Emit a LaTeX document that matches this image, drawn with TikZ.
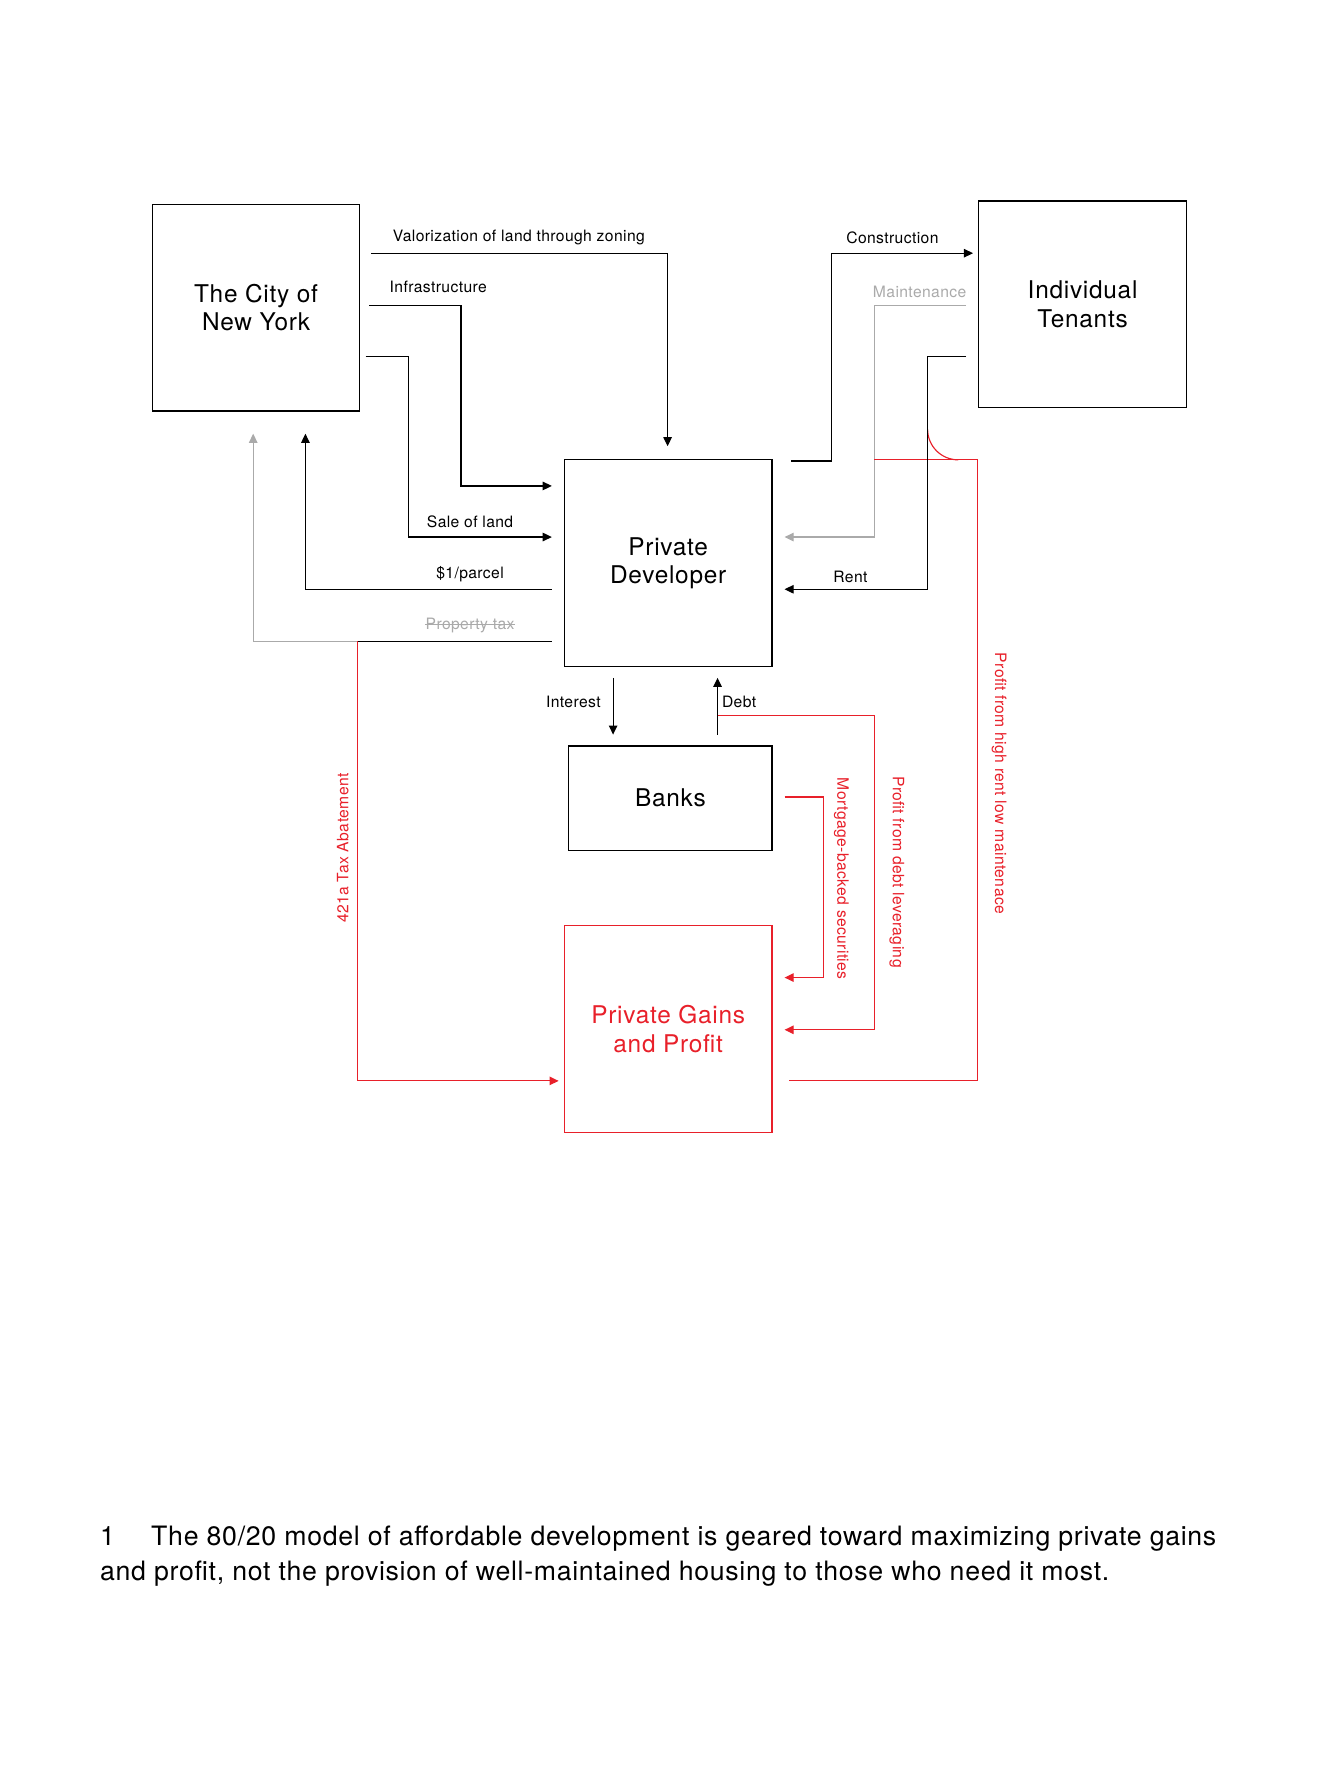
\documentclass[tikz,border=0pt]{standalone}
\usepackage{fontspec}
\setmainfont{TeX Gyre Heros}
\newfontfamily\boxfont[LetterSpace=3]{TeX Gyre Heros}
\newfontfamily\lblfont[LetterSpace=2.5]{TeX Gyre Heros}
\newfontfamily\capfont[LetterSpace=2.6]{TeX Gyre Heros}
\usetikzlibrary{arrows.meta}
\definecolor{myred}{HTML}{E8202A}
\definecolor{mygray}{HTML}{AAAAAA}
\tikzset{
  bx/.style={draw, line width=1pt, minimum width=183pt, minimum height=182pt, inner sep=0pt, align=center, font=\boxfont\fontsize{21.5}{25}\selectfont},
  ln/.style={line width=1pt},
  tip/.style={-{Triangle[length=8pt,width=7.5pt]}},
  lbl/.style={inner sep=0pt, font=\lblfont\fontsize{13.8}{16}\selectfont},
  captxt/.style={anchor=base west, inner sep=0pt, font=\capfont\fontsize{23.5}{30}\selectfont},
}
\begin{document}
\begin{tikzpicture}[x=1pt,y=-1pt]
\useasboundingbox (0,0) rectangle (1174,1566);
% boxes
\node[bx] (city) at (225.5,271) {The City of\\New York};
\node[bx] (ten) at (953.5,268) {Individual\\Tenants};
\node[bx] (dev) at (588.5,496) {Private\\Developer};
\node[bx, minimum width=179pt, minimum height=92pt] (banks) at (590.5,703) {Banks};
\node[bx, draw=myred, text=myred] (gains) at (588.5,906.5) {Private Gains\\and Profit};

% coordinates
\coordinate (valS) at (327,223); \coordinate (valE) at (588,393);
\coordinate (infS) at (325,269); \coordinate (infX) at (406,350); \coordinate (infE) at (486,428);
\coordinate (salS) at (322,314); \coordinate (salX) at (360,400); \coordinate (salE) at (486,473);
\coordinate (parS) at (486,519); \coordinate (parE) at (269,382);
\coordinate (taxS) at (486,565); \coordinate (taxE) at (223,382);
\coordinate (abS) at (315,565); \coordinate (abE) at (492,952);
\coordinate (conS) at (697,406); \coordinate (conX) at (732,300); \coordinate (conE) at (857,223);
\coordinate (maiS) at (851,269); \coordinate (maiX) at (770,400); \coordinate (maiE) at (691,473);
\coordinate (renS) at (851,314); \coordinate (renX) at (817,400); \coordinate (renE) at (691,519);
\coordinate (hrS) at (695,952); \coordinate (hrX) at (861,405); \coordinate (hrE) at (770,405);
\coordinate (arcS) at (817,378); \coordinate (arcE) at (844,405);
\coordinate (intS) at (540,597); \coordinate (intE) at (540,647);
\coordinate (debS) at (632,647); \coordinate (debE) at (632,597);
\coordinate (dlS) at (632,630); \coordinate (dlX) at (770,800); \coordinate (dlE) at (691,907);
\coordinate (mbS) at (691,702); \coordinate (mbX) at (725,800); \coordinate (mbE) at (691,861);

% black connectors
\draw[ln,tip] (valS) -| (valE);
\draw[ln,tip] (infS) -| (infX) |- (infE);
\draw[ln,tip] (salS) -| (salX) |- (salE);
\draw[ln,tip] (parS) -| (parE);
\draw[ln,mygray,tip] (taxS) -| (taxE);
\draw[ln] (taxS) -- (abS);
\draw[ln,tip] (conS) -| (conX) |- (conE);
\draw[ln,mygray,tip] (maiS) -| (maiX) |- (maiE);
\draw[ln,myred] (hrS) -| (hrX) -- (hrE);
\draw[ln,myred] (arcS) .. controls (817,393) and (829,405) .. (arcE);
\draw[ln,tip] (renS) -| (renX) |- (renE);
\draw[ln,tip] (intS) -- (intE);
\draw[ln,tip] (debS) -- (debE);
% red connectors
\draw[ln,myred,tip] (abS) |- (abE);
\draw[ln,myred,tip] (dlS) -| (dlX) |- (dlE);
\draw[ln,myred,tip] (mbS) -| (mbX) |- (mbE);

% labels
\node[lbl] (lval) at (457,209) {Valorization of land through zoning};
\node[lbl] (linf) at (386,253) {Infrastructure};
\node[lbl] (lsal) at (414,460) {Sale of land};
\node[lbl] (lpar) at (414,506) {\$1/parcel};
\node[lbl, text=mygray] (ltax) at (414,551) {Property tax};
\draw[mygray, line width=0.9pt] ([yshift=4.5pt]ltax.base west) -- ([yshift=4.5pt]ltax.base east);
\node[lbl] (lcon) at (786,209) {Construction};
\node[lbl, text=mygray] (lmai) at (810,257) {Maintenance};
\node[lbl] (lren) at (749,508) {Rent};
\node[lbl] (lint) at (505,618) {Interest};
\node[lbl] (ldeb) at (651,618) {Debt};
\node[lbl, text=myred, rotate=90] (lab) at (302,747) {421a Tax Abatement};
\node[lbl, text=myred, rotate=-90] (lmb) at (741,774) {Mortgage-backed securities};
\node[lbl, text=myred, rotate=-90] (ldl) at (790,768) {Profit from debt leveraging};
\node[lbl, text=myred, rotate=-90] (lhr) at (880,690) {Profit from high rent low maintenace};

% caption
\node[captxt] (num) at (88,1361) {1};
\node[captxt] (cap1) at (133,1361) {The 80/20 model of affordable development is geared toward maximizing private gains};
\node[captxt] (cap2) at (88,1392) {and profit, not the provision of well-maintained housing to those who need it most.};
\end{tikzpicture}
\end{document}
